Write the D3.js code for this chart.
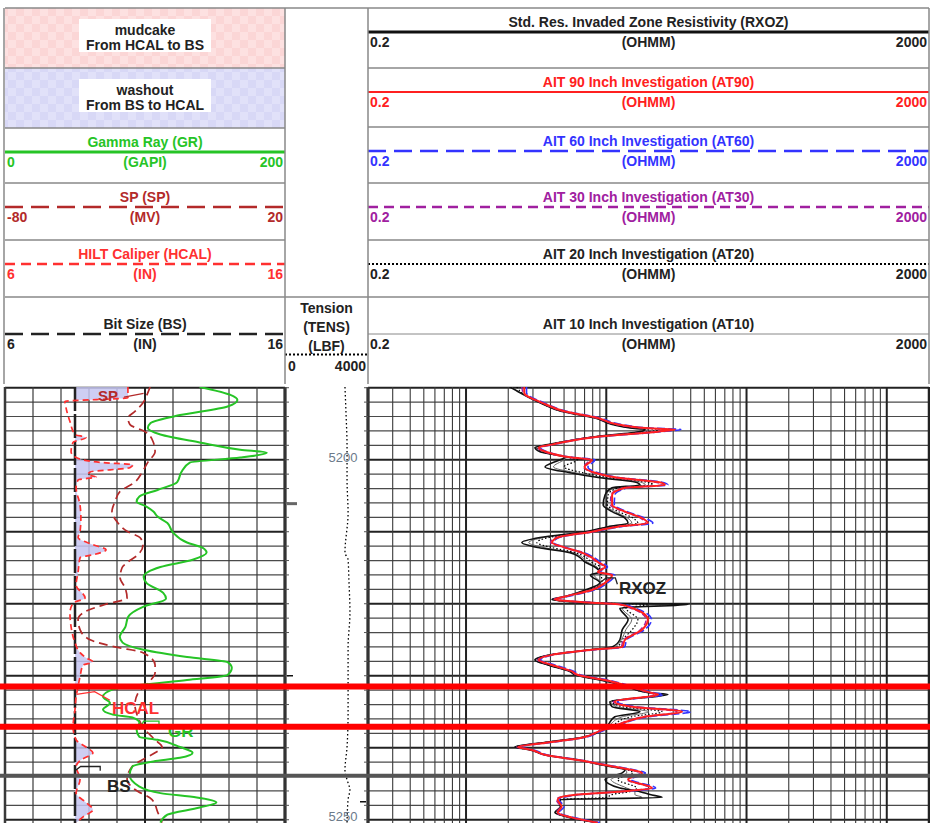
<!DOCTYPE html>
<html>
<head>
<meta charset="utf-8">
<script src="https://cdn.jsdelivr.net/npm/d3@7"></script>
<style>
  body { margin: 0; background: #fff; }
  text { font-family: "Liberation Sans", Arial, sans-serif; }
</style>
</head>
<body>
<div id="chart"></div>
<script>
// ---- header data ----
const fillNames = ["mudcake", "washout"];
const fillDescs = ["From HCAL to BS", "From BS to HCAL"];

const t1Curves = ["GR", "SP", "HCAL", "BS"];
const t1Titles = ["Gamma Ray (GR)", "SP (SP)", "HILT Caliper (HCAL)", "Bit Size (BS)"];
const t1Units = ["(GAPI)", "(MV)", "(IN)", "(IN)"];
const t1Min = [0, -80, 6, 6];
const t1Max = [200, 20, 16, 16];

const resCurves = ["RXOZ", "AT90", "AT60", "AT30", "AT20", "AT10"];
const resTitles = ["Std. Res. Invaded Zone Resistivity (RXOZ)", "AIT 90 Inch Investigation (AT90)",
  "AIT 60 Inch Investigation (AT60)", "AIT 30 Inch Investigation (AT30)",
  "AIT 20 Inch Investigation (AT20)", "AIT 10 Inch Investigation (AT10)"];
const resUnit = "(OHMM)";
const resMin = 0.2, resMax = 2000;

const tensTitle = ["Tension", "(TENS)", "(LBF)"];
const tensMin = 0, tensMax = 4000;

// ---- depth ----
const depthTop = 5189.9, depthBottom = 5250.45;
const depthLabels = [5200, 5250];
const redMarks = [5231.5, 5237.1];
const greyMarks = [5243.9];

// ---- track 1 curves ----
const grDepth = [5189.9, 5191.0, 5191.7, 5192.6, 5193.8, 5194.9, 5195.6, 5196.5, 5197.6, 5198.6,
  5199.0, 5199.7, 5200.4, 5201.7, 5203.1, 5204.2, 5205.1, 5205.8, 5206.5, 5207.2,
  5207.9, 5208.8, 5210.1, 5211.5, 5212.2, 5212.9, 5213.9, 5214.9, 5216.3, 5217.1,
  5218.5, 5219.3, 5220.4, 5221.8, 5223.2, 5224.6, 5225.4, 5226.4, 5227.4, 5228.1,
  5228.9, 5229.9, 5230.6, 5231.3, 5231.9, 5232.9, 5233.8, 5234.7, 5235.4, 5235.8,
  5236.5, 5237.5, 5238.5, 5238.9, 5239.9, 5240.7, 5241.4, 5241.9, 5242.6, 5243.8,
  5245.4, 5246.3, 5246.9, 5247.6, 5248.3, 5249.3, 5250.4];
const grValue = [139, 161, 166, 159, 125, 104, 102, 111, 139, 168,
  187, 168, 132, 126, 123, 109, 96, 94, 101, 106,
  109, 116, 120, 130, 141, 144, 134, 111, 99, 101,
  113, 115, 99, 88, 86, 82, 84, 99, 130, 159,
  162, 159, 130, 96, 77, 70, 75, 70, 77, 91,
  96, 94, 96, 109, 125, 134, 125, 106, 91, 89,
  96, 111, 137, 151, 139, 116, 111];

const spDepth = [5189.9, 5191.0, 5192.1, 5193.3, 5194.2, 5195.1, 5196.1, 5197.5, 5198.9, 5200.3,
  5201.8, 5203.1, 5204.4, 5205.8, 5207.2, 5208.6, 5210.0, 5210.8, 5211.8, 5213.2,
  5214.2, 5215.0, 5216.4, 5217.8, 5219.2, 5220.1, 5221.1, 5222.2, 5223.6, 5225.0,
  5226.0, 5226.8, 5228.5, 5229.6, 5231.0, 5232.4, 5234.0, 5235.8, 5237.5, 5238.9,
  5239.9, 5240.7, 5241.7, 5242.6, 5244.4, 5245.8, 5247.2, 5249.0, 5250.4];
const spValue = [-28.2, -29.3, -30.7, -33.6, -36.1, -35.4, -30.0, -27.1, -26.4, -28.9,
  -31.1, -33.6, -38.9, -40.7, -41.8, -40.0, -36.1, -31.8, -30.7, -32.5,
  -36.1, -38.2, -38.9, -37.1, -36.4, -44.3, -51.4, -53.9, -53.2, -49.6,
  -40.7, -30.7, -26.4, -26.4, -28.9, -32.5, -33.6, -32.5, -30.0, -26.4,
  -23.9, -26.4, -31.1, -34.6, -36.4, -33.6, -27.5, -25.4, -23.9];

const hcalDepth = [5189.9, 5191.4, 5191.9, 5192.8, 5194.7, 5196.5, 5196.9, 5197.6, 5198.9, 5199.7,
  5200.4, 5200.7, 5201.1, 5201.7, 5202.1, 5202.4, 5202.8, 5203.9, 5206.3, 5208.1,
  5210.0, 5210.8, 5211.8, 5212.5, 5213.2, 5213.6, 5215.6, 5217.4, 5219.2, 5219.9,
  5221.3, 5223.2, 5225.4, 5226.8, 5227.5, 5228.1, 5228.5, 5230.1, 5231.5, 5232.9,
  5234.7, 5237.1, 5238.9, 5239.9, 5240.7, 5241.7, 5242.6, 5244.4, 5246.3, 5247.6,
  5248.6, 5249.6, 5250.4];
const hcalValue = [10.39, 10.39, 8.14, 8.18, 8.32, 8.5, 8.89, 8.43, 8.36, 8.54,
  9.5, 10.57, 10.46, 9.04, 8.96, 9.25, 8.61, 8.54, 8.68, 8.71,
  8.68, 8.61, 9.14, 9.61, 9.14, 8.68, 8.61, 8.54, 8.86, 8.43,
  8.32, 8.36, 8.5, 8.68, 8.89, 9.14, 8.79, 8.68, 8.61, 8.54,
  8.5, 8.43, 8.54, 8.89, 9.14, 8.71, 8.54, 8.68, 8.54, 8.89,
  9.14, 8.79, 8.54];

const bsDepth = [5189.9, 5250.45];
const bsValue = [8.5, 8.5];

// ---- tension ----
const tensDepth = [5189.9, 5193.5, 5198.2, 5202.8, 5207.4, 5212.9, 5213.9, 5216.7, 5221.3, 5226.0,
  5230.6, 5235.1, 5239.9, 5243.1, 5244.9, 5245.8, 5247.2, 5250.4];
const tensValue = [2890, 2940, 2990, 2990, 3040, 2890, 3040, 3080, 3130, 3040,
  3040, 3040, 2990, 2890, 3040, 3130, 3040, 2990];

// ---- resistivity curves (shared depths) ----
const resDepth = [5189.9, 5190.7, 5192.1, 5193.3, 5194.2, 5195.1, 5195.6, 5195.8, 5196.1, 5196.8,
  5197.9, 5198.3, 5198.9, 5199.7, 5200.0, 5201.0, 5201.8, 5202.5, 5203.1, 5203.5,
  5203.9, 5204.9, 5206.3, 5207.2, 5208.1, 5208.8, 5209.3, 5210.0, 5210.8, 5211.5,
  5212.2, 5212.9, 5213.6, 5214.2, 5214.9, 5215.6, 5216.0, 5217.1, 5218.1, 5219.0,
  5219.4, 5219.9, 5220.1, 5220.6, 5222.2, 5223.6, 5225.0, 5226.0, 5226.4, 5227.1,
  5227.8, 5228.5, 5229.4, 5229.9, 5230.6, 5231.3, 5232.4, 5232.6, 5233.6, 5234.3,
  5235.0, 5235.7, 5236.8, 5237.8, 5238.6, 5239.2, 5239.9, 5240.3, 5241.0, 5241.7,
  5242.4, 5243.1, 5243.5, 5244.4, 5245.6, 5246.1, 5246.5, 5246.9, 5247.2, 5248.2,
  5249.0, 5249.7, 5250.4];
const at90 = [2.6, 2.6, 3.5, 5.1, 8.7, 12.1, 18.9, 30.9, 23.4, 8.7,
  4.1, 3.3, 3.7, 5.7, 7.9, 7.0, 8.3, 12.1, 23.4, 26.2,
  13.6, 11.0, 11.0, 13.6, 18.0, 19.8, 12.1, 7.9, 4.5, 4.1,
  5.1, 6.7, 7.9, 8.7, 9.8, 8.7, 11.0, 9.8, 7.9, 5.1,
  4.3, 8.7, 12.5, 15.3, 19.8, 18.0, 13.6, 13.0, 7.9, 4.1,
  3.3, 4.1, 5.7, 6.3, 9.8, 13.6, 21.2, 23.4, 11.5, 15.3,
  34.7, 18.9, 12.1, 8.7, 6.7, 4.1, 2.35, 2.95, 3.7, 6.3,
  9.8, 15.3, 18.0, 14.3, 21.2, 12.1, 6.3, 4.7, 4.5, 4.8,
  4.5, 5.7, 8.7];
const rxoz = [2.06, 2.43, 3.37, 4.83, 8.31, 11.0, 14.8, 18.9, 17.4, 8.3,
  3.84, 3.1, 3.37, 5.08, 4.68, 3.66, 5.5, 9.0, 16.0, 17.4,
  11.0, 9.8, 9.5, 11.0, 13.6, 14.3, 10.3, 7.05, 3.37, 2.5,
  3.26, 5.5, 6.5, 7.05, 8.3, 9.0, 7.7, 9.0, 7.05, 5.08,
  4.1, 9.0, 38.3, 12.5, 14.3, 13.0, 12.5, 11.0, 7.7, 4.0,
  3.1, 3.84, 5.5, 6.0, 9.0, 13.0, 20.5, 27.5, 10.6, 11.0,
  17.4, 11.5, 10.3, 9.0, 6.5, 3.84, 2.23, 2.86, 3.66, 6.3,
  9.3, 13.6, 13.0, 9.8, 12.5, 17.4, 20.5, 25.0, 4.7, 4.7,
  4.3, 5.5, 8.7];
const at60 = [2.7, 2.7, 3.6, 5.3, 9.0, 12.8, 20.5, 34.0, 25.0, 9.0,
  4.2, 3.4, 3.8, 5.9, 8.3, 7.4, 8.7, 12.6, 24.5, 27.5,
  14.2, 11.5, 11.4, 14.0, 18.8, 21.5, 12.8, 8.2, 4.6, 4.2,
  5.2, 6.9, 8.2, 9.1, 10.2, 9.0, 11.5, 10.2, 8.2, 5.3,
  4.4, 9.0, 13.0, 16.0, 21.0, 18.8, 14.0, 13.5, 8.2, 4.2,
  3.4, 4.3, 5.9, 6.6, 10.3, 14.2, 22.5, 25.5, 12.0, 16.5,
  40.0, 20.0, 12.6, 9.0, 6.9, 4.3, 2.45, 3.05, 3.8, 6.5,
  10.2, 16.0, 19.0, 15.0, 22.5, 12.6, 6.6, 4.9, 4.6, 5.0,
  4.6, 5.9, 9.0];
const at30 = [2.5, 2.55, 3.45, 5.0, 8.5, 11.8, 18.0, 29.0, 22.0, 8.5,
  4.0, 3.25, 3.6, 5.6, 7.6, 6.9, 8.1, 11.8, 22.0, 25.0,
  13.2, 10.8, 10.7, 13.3, 17.5, 19.0, 11.8, 7.7, 4.4, 4.0,
  5.0, 6.5, 7.7, 8.5, 9.6, 8.6, 10.7, 9.6, 7.7, 5.0,
  4.2, 8.6, 12.2, 14.8, 19.2, 17.5, 13.3, 12.7, 7.7, 4.0,
  3.25, 4.0, 5.6, 6.2, 9.6, 13.3, 20.5, 22.5, 11.2, 14.8,
  32.0, 18.3, 11.8, 8.5, 6.6, 4.0, 2.3, 2.9, 3.6, 6.1,
  9.6, 14.9, 17.5, 14.0, 20.5, 11.8, 6.2, 4.6, 4.4, 4.7,
  4.4, 5.6, 8.5];
const at20 = [2.3, 2.5, 3.4, 4.9, 8.4, 11.5, 16.5, 24.0, 20.0, 8.4,
  3.9, 3.2, 3.5, 5.4, 6.2, 5.0, 6.8, 10.5, 19.5, 21.5,
  12.2, 10.3, 10.2, 12.2, 15.5, 16.8, 11.2, 7.4, 3.9, 3.2,
  4.1, 6.0, 7.2, 7.8, 9.0, 8.8, 9.2, 9.3, 7.4, 5.1,
  4.2, 8.8, 20.0, 13.8, 16.8, 15.3, 13.0, 12.0, 7.8, 4.0,
  3.2, 3.9, 5.6, 6.1, 9.4, 13.3, 20.8, 25.0, 11.0, 13.0,
  25.0, 15.0, 11.2, 8.8, 6.6, 3.9, 2.3, 2.9, 3.7, 6.3,
  9.5, 14.4, 15.5, 12.0, 16.5, 14.5, 11.0, 10.0, 4.6, 4.7,
  4.4, 5.6, 8.7];
const at10 = [2.1, 2.45, 3.4, 4.9, 8.3, 11.2, 15.5, 20.0, 18.0, 8.3,
  3.9, 3.15, 3.4, 5.2, 5.0, 4.2, 6.0, 9.5, 17.5, 19.0,
  11.5, 10.0, 9.8, 11.5, 14.2, 15.2, 10.6, 7.2, 3.6, 2.8,
  3.6, 5.7, 6.8, 7.3, 8.6, 9.0, 8.2, 9.1, 7.2, 5.1,
  4.1, 9.0, 28.0, 13.0, 15.2, 13.8, 12.8, 11.5, 7.7, 4.0,
  3.1, 3.8, 5.5, 6.0, 9.1, 13.1, 20.6, 26.5, 10.8, 11.8,
  20.0, 13.0, 10.6, 9.0, 6.5, 3.8, 2.25, 2.87, 3.66, 6.3,
  9.4, 13.8, 14.0, 10.8, 14.0, 16.0, 16.0, 18.0, 4.7, 4.7,
  4.35, 5.5, 8.7];

// ---- layout ----
const w = 930, h = 823;
const t1X = [5, 285], dX = [285, 368], t3X = [368, 929];
const logTop = 387, logBottom = 823;
const font = "Liberation Sans, Arial, sans-serif";

const style = {
  GR:   { color: "#26c426", w: 2,   dash: null,      hw: 3,   hdash: null },
  SP:   { color: "#b32a2a", w: 1.7, dash: "9,5",     hw: 2.5, hdash: "18,8" },
  HCAL: { color: "#ff3030", w: 1.7, dash: "6,4",     hw: 2.5, hdash: "10,6" },
  BS:   { color: "#222",    w: 2.5, dash: "24,3",    hw: 2.5, hdash: "18,8" },
  RXOZ: { color: "#111",    w: 1.6, dash: null,      hw: 3,   hdash: null },
  AT90: { color: "#ff2020", w: 2,   dash: null,      hw: 2,   hdash: null },
  AT60: { color: "#3333ff", w: 1.6, dash: "8,3",     hw: 2.5, hdash: "18,8" },
  AT30: { color: "#a020a0", w: 1.4, dash: "5,3",     hw: 2.5, hdash: "10,6" },
  AT20: { color: "#000",    w: 1.2, dash: "1.5,2",   hw: 2,   hdash: "2,2" },
  AT10: { color: "#666",    w: 1,   dash: null,      hw: 1,   hdash: null },
  TENS: { color: "#000",    w: 1.3, dash: "1.5,2.5", hw: 2,   hdash: "2,2" }
};

const y = d3.scaleLinear().domain([depthTop, depthBottom]).range([logTop, logBottom]);
const xGR = d3.scaleLinear().domain([t1Min[0], t1Max[0]]).range(t1X);
const xSP = d3.scaleLinear().domain([t1Min[1], t1Max[1]]).range(t1X);
const xCal = d3.scaleLinear().domain([t1Min[2], t1Max[2]]).range(t1X);
const xTens = d3.scaleLinear().domain([tensMin, tensMax]).range(dX);
const xRes = d3.scaleLog().domain([resMin, resMax]).range(t3X);

const svg = d3.select("#chart").append("svg")
  .attr("width", w).attr("height", h)
  .style("display", "block")
  .style("background", "#fff");

const defs = svg.append("defs");
function checker(id, base, light) {
  const p = defs.append("pattern").attr("id", id)
    .attr("width", 16).attr("height", 16).attr("patternUnits", "userSpaceOnUse");
  p.append("rect").attr("width", 16).attr("height", 16).attr("fill", base);
  p.append("rect").attr("width", 8).attr("height", 8).attr("fill", light);
  p.append("rect").attr("x", 8).attr("y", 8).attr("width", 8).attr("height", 8).attr("fill", light);
}
checker("mudPat", "#fbd6d6", "#fde1e1");
checker("washPat", "#d8d8f6", "#e1e1f9");

defs.append("clipPath").attr("id", "clipT1").append("rect")
  .attr("x", t1X[0]).attr("y", logTop).attr("width", t1X[1] - t1X[0]).attr("height", logBottom - logTop);
defs.append("clipPath").attr("id", "clipT3").append("rect")
  .attr("x", t3X[0]).attr("y", logTop).attr("width", t3X[1] - t3X[0]).attr("height", logBottom - logTop);
defs.append("clipPath").attr("id", "clipWash").append("rect")
  .attr("x", xCal(bsValue[0])).attr("y", logTop).attr("width", t1X[1] - xCal(bsValue[0])).attr("height", logBottom - logTop);

// ================= HEADER =================
const hdr = svg.append("g");
const hTop = 8, hBottom = 384;
const t1Rows = [[8, 68], [68, 128], [128, 183], [183, 240], [240, 297], [297, hBottom]];
const t3Rows = [[8, 68], [68, 127], [127, 183], [183, 240], [240, 297], [297, hBottom]];

function txt(g, x, yy, s, color, anchor, size, weight) {
  return g.append("text").attr("x", x).attr("y", yy).text(s)
    .attr("fill", color).attr("text-anchor", anchor || "start")
    .style("font-size", (size || 14) + "px").style("font-weight", weight || "bold")
    .style("font-family", font);
}

// fill legends
fillNames.forEach((name, i) => {
  const r = t1Rows[i];
  hdr.append("rect").attr("x", t1X[0]).attr("y", r[0]).attr("width", t1X[1] - t1X[0]).attr("height", r[1] - r[0])
    .attr("fill", i === 0 ? "url(#mudPat)" : "url(#washPat)");
  hdr.append("rect").attr("x", 79).attr("y", r[0] + 11).attr("width", 132).attr("height", 33).attr("fill", "#fff");
  txt(hdr, 145, r[0] + 27, name, "#222", "middle");
  txt(hdr, 145, r[0] + 42, fillDescs[i], "#222", "middle");
});

function curveHeader(row, x0, x1, key, title, unit, lo, hi) {
  const off = (row[1] - row[0]) > 70 ? 13 : 0;
  const s = style[key];
  const tc = (key === "BS" || key === "RXOZ" || key === "AT20" || key === "AT10") ? "#222" : s.color;
  const cx = (x0 + x1) / 2;
  txt(hdr, cx, row[0] + 19 + off, title, tc, "middle");
  hdr.append("line").attr("x1", x0).attr("x2", x1)
    .attr("y1", row[0] + 24 + off).attr("y2", row[0] + 24 + off)
    .attr("stroke", key === "AT10" ? "#888" : s.color).attr("stroke-width", s.hw)
    .attr("stroke-dasharray", s.hdash);
  txt(hdr, x0 + 2, row[0] + 39 + off, lo, tc, "start");
  txt(hdr, cx, row[0] + 39 + off, unit, tc, "middle");
  txt(hdr, x1 - 2, row[0] + 39 + off, hi, tc, "end");
}

t1Curves.forEach((k, i) => curveHeader(t1Rows[i + 2], t1X[0], t1X[1], k, t1Titles[i], t1Units[i], t1Min[i], t1Max[i]));
resCurves.forEach((k, i) => curveHeader(t3Rows[i], t3X[0], t3X[1], k, resTitles[i], resUnit, resMin, resMax));

// tension header
tensTitle.forEach((s, i) => txt(hdr, (dX[0] + dX[1]) / 2, 313 + i * 19, s, "#222", "middle"));
hdr.append("line").attr("x1", dX[0]).attr("x2", dX[1]).attr("y1", 354.5).attr("y2", 354.5)
  .attr("stroke", "#000").attr("stroke-width", 2).attr("stroke-dasharray", style.TENS.hdash);
txt(hdr, dX[0] + 3, 371, tensMin, "#222", "start");
txt(hdr, dX[1] - 2, 371, tensMax, "#222", "end");

// header frame
const frame = "#888";
[t1Rows, t3Rows].forEach((rows, j) => {
  const xs = j === 0 ? t1X : t3X;
  rows.forEach(r => {
    hdr.append("line").attr("x1", xs[0]).attr("x2", xs[1]).attr("y1", r[0]).attr("y2", r[0])
      .attr("stroke", frame).attr("stroke-width", 1.5);
  });
});
hdr.append("line").attr("x1", dX[0]).attr("x2", dX[1]).attr("y1", hTop).attr("y2", hTop).attr("stroke", frame).attr("stroke-width", 1.5);
hdr.append("line").attr("x1", dX[0]).attr("x2", dX[1]).attr("y1", 297).attr("y2", 297).attr("stroke", frame).attr("stroke-width", 1.5);
[t1X[0] - 1, t1X[1], dX[1], t3X[1]].forEach(x => {
  hdr.append("line").attr("x1", x).attr("x2", x).attr("y1", hTop).attr("y2", hBottom)
    .attr("stroke", frame).attr("stroke-width", 1.5);
});

// ================= LOG GRID =================
const grid = svg.append("g");
const gridDepths = d3.range(5190, 5251, 2);
[t1X, t3X].forEach(xs => {
  grid.selectAll(null).data(gridDepths).enter().append("line")
    .attr("x1", xs[0]).attr("x2", xs[1])
    .attr("y1", d => y(d)).attr("y2", d => y(d))
    .attr("stroke", d => d % 10 === 0 ? "#222" : "#4a4a4a")
    .attr("stroke-width", d => d % 10 === 0 ? 2 : 1.2);
});
// linear verticals in track 1
grid.selectAll(null).data(d3.range(0, 201, 20)).enter().append("line")
  .attr("x1", d => xGR(d)).attr("x2", d => xGR(d))
  .attr("y1", logTop).attr("y2", logBottom)
  .attr("stroke", d => d === 100 ? "#222" : "#3a3a3a")
  .attr("stroke-width", d => (d === 0 || d === 200) ? 2.5 : d === 100 ? 2 : 1.2);
// log verticals in track 3
const logLines = [];
[0.1, 1, 10, 100, 1000].forEach(b => d3.range(1, 10).forEach(m => {
  const v = +(b * m).toPrecision(3);
  if (v >= resMin && v <= resMax) logLines.push({ v, major: m === 1 });
}));
grid.selectAll(null).data(logLines).enter().append("line")
  .attr("x1", d => xRes(d.v)).attr("x2", d => xRes(d.v))
  .attr("y1", logTop).attr("y2", logBottom)
  .attr("stroke", d => d.major ? "#222" : "#3a3a3a")
  .attr("stroke-width", d => d.major ? 2 : 1.1);
[t3X[0], t3X[1]].forEach(x => grid.append("line").attr("x1", x).attr("x2", x)
  .attr("y1", logTop).attr("y2", logBottom).attr("stroke", "#222").attr("stroke-width", 2.5));

// depth track edges and ticks
[dX[0], dX[1]].forEach(x => grid.append("line").attr("x1", x).attr("x2", x)
  .attr("y1", logTop).attr("y2", logBottom).attr("stroke", "#333").attr("stroke-width", 3));
grid.selectAll(null).data(gridDepths).enter().append("line")
  .attr("x1", dX[0]).attr("x2", dX[0] + 4).attr("y1", d => y(d)).attr("y2", d => y(d))
  .attr("stroke", "#555").attr("stroke-width", 1);
grid.selectAll(null).data(gridDepths).enter().append("line")
  .attr("x1", dX[1] - 4).attr("x2", dX[1]).attr("y1", d => y(d)).attr("y2", d => y(d))
  .attr("stroke", "#555").attr("stroke-width", 1);
grid.append("line").attr("x1", dX[0] + 2).attr("x2", dX[0] + 12).attr("y1", y(5206.1)).attr("y2", y(5206.1))
  .attr("stroke", "#666").attr("stroke-width", 3);
grid.append("line").attr("x1", dX[0] + 2).attr("x2", dX[0] + 8).attr("y1", y(5230.0)).attr("y2", y(5230.0))
  .attr("stroke", "#111").attr("stroke-width", 1.5);
grid.append("line").attr("x1", dX[1] - 8).attr("x2", dX[1] - 2).attr("y1", y(5247.5)).attr("y2", y(5247.5))
  .attr("stroke", "#111").attr("stroke-width", 1.5);

// depth labels (bottom one kept inside the picture)
grid.selectAll(null).data(depthLabels).enter().append("text")
  .attr("x", 343).attr("y", d => Math.min(y(d) + 2, h - 2))
  .attr("text-anchor", "middle").attr("fill", "#6b7a8a")
  .style("font-size", "13px").style("font-family", font)
  .text(d => d);

// ================= CURVES =================
const curves = svg.append("g");
function path(g, xs, depths, values, key, clip) {
  const s = style[key];
  const line = d3.line()
    .x((d, i) => xs(values[i]))
    .y((d, i) => y(depths[i]))
    .curve(d3.curveMonotoneY);
  g.append("path").attr("d", line(depths))
    .attr("fill", "none").attr("stroke", s.color).attr("stroke-width", s.w)
    .attr("stroke-dasharray", s.dash).attr("stroke-linejoin", "round")
    .attr("clip-path", clip ? "url(#" + clip + ")" : null);
}

// washout fill: between BS and HCAL, only where HCAL > BS
const washArea = d3.area()
  .y((d, i) => y(hcalDepth[i]))
  .x0(xCal(bsValue[0]))
  .x1((d, i) => xCal(hcalValue[i]))
  .curve(d3.curveMonotoneY);
curves.append("g").attr("clip-path", "url(#clipT1)")
  .append("path").attr("d", washArea(hcalDepth))
  .attr("fill", "#c6c6f1").attr("fill-opacity", 0.85)
  .attr("clip-path", "url(#clipWash)");

path(curves, xCal, bsDepth, bsValue, "BS", "clipT1");
path(curves, xSP, spDepth, spValue, "SP", "clipT1");
path(curves, xCal, hcalDepth, hcalValue, "HCAL", "clipT1");
path(curves, xGR, grDepth, grValue, "GR", "clipT1");

path(curves, xTens, tensDepth, tensValue, "TENS", null);

path(curves, xRes, resDepth, at10, "AT10", "clipT3");
path(curves, xRes, resDepth, at20, "AT20", "clipT3");
path(curves, xRes, resDepth, rxoz, "RXOZ", "clipT3");
path(curves, xRes, resDepth, at30, "AT30", "clipT3");
path(curves, xRes, resDepth, at60, "AT60", "clipT3");
path(curves, xRes, resDepth, at90, "AT90", "clipT3");

// ================= CURVE LABELS =================
const labels = svg.append("g");
const labelSpecs = [
  { text: "SP", key: "SP", xs: xSP, at: [-46.8, 5191.8], lead: [[-37.5, 5191.3], [-30.5, 5190.8]] },
  { text: "HCAL", key: "HCAL", xs: xCal, at: [9.82, 5235.3], lead: [[8.55, 5232.6], [9.2, 5232.2], [9.75, 5233.4]] },
  { text: "GR", key: "GR", xs: xGR, at: [116.4, 5238.5], lead: [[96, 5237.5], [99, 5236.3], [110, 5236.3], [110, 5237.0]] },
  { text: "BS", key: "BS", xs: xCal, at: [9.64, 5246.1], lead: [[8.5, 5243.2], [8.7, 5242.6], [9.4, 5242.6], [9.4, 5243.2]] },
  { text: "RXOZ", key: "RXOZ", xs: xRes, at: [12.3, 5218.6], lead: [[9.0, 5217.1], [10.0, 5216.4], [11.6, 5216.4], [12.0, 5217.3]] }
];
labelSpecs.forEach(l => {
  const col = l.key === "BS" || l.key === "RXOZ" ? "#222" : style[l.key].color;
  labels.append("path")
    .attr("d", d3.line().x(p => l.xs(p[0])).y(p => y(p[1]))(l.lead))
    .attr("fill", "none").attr("stroke", col).attr("stroke-width", 1.3);
  labels.append("text").attr("x", l.xs(l.at[0])).attr("y", y(l.at[1]))
    .text(l.text).attr("fill", col)
    .style("font-size", l.key === "SP" ? "15px" : "17px").style("font-weight", "bold").style("font-family", font);
});

// ================= MARKER LINES =================
const marks = svg.append("g");
marks.selectAll(null).data(greyMarks).enter().append("line")
  .attr("x1", 0).attr("x2", w).attr("y1", d => y(d)).attr("y2", d => y(d))
  .attr("stroke", "#555").attr("stroke-width", 4);
marks.selectAll(null).data(redMarks).enter().append("line")
  .attr("x1", 0).attr("x2", w).attr("y1", d => y(d)).attr("y2", d => y(d))
  .attr("stroke", "#ff0000").attr("stroke-width", 6);
</script>
</body>
</html>
